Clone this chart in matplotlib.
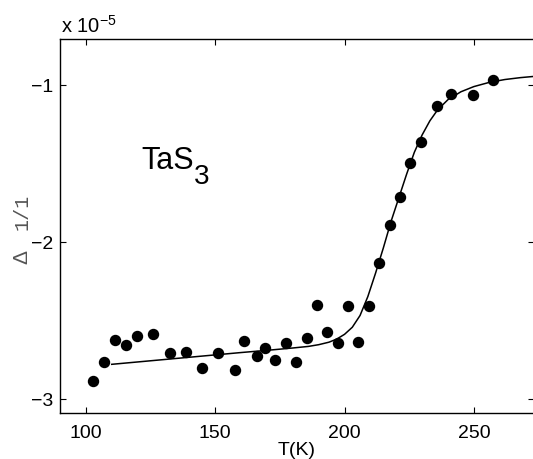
import matplotlib
matplotlib.use("Agg")
import matplotlib.pyplot as plt

plt.rcParams['font.family'] = ['Liberation Sans', 'DejaVu Sans']

# Measured data points (T in K, Δl/l in units of 1e-5)
T_data = [102.8, 107.2, 111.3, 115.5, 119.7, 125.8, 132.5, 138.7, 144.8, 151.0,
          157.6, 161.2, 166.1, 169.2, 173.2, 177.2, 181.4, 185.3, 189.4, 193.4,
          197.4, 201.3, 205.4, 209.3, 213.5, 217.4, 221.5, 225.5, 229.4, 235.6,
          241.1, 249.5, 257.5]
y_data = [-2.885, -2.769, -2.624, -2.658, -2.601, -2.588, -2.707, -2.703, -2.805, -2.711,
          -2.815, -2.635, -2.726, -2.675, -2.752, -2.645, -2.764, -2.616, -2.403, -2.577,
          -2.648, -2.412, -2.639, -2.412, -2.138, -1.894, -1.718, -1.501, -1.367, -1.138,
          -1.059, -1.064, -0.968]

# Fitted curve
T_fit = [110, 120, 130, 140, 150, 160, 170, 180, 186, 190, 194, 197, 200, 203, 206,
         209, 212, 215, 218, 221, 224, 227, 230, 233, 236, 240, 245, 250, 256, 262,
         268, 276]
y_fit = [-2.781, -2.766, -2.751, -2.736, -2.721, -2.706, -2.692, -2.677, -2.667, -2.656,
         -2.640, -2.620, -2.590, -2.545, -2.470, -2.350, -2.200, -2.040, -1.870, -1.720,
         -1.570, -1.430, -1.320, -1.230, -1.160, -1.095, -1.045, -1.012, -0.985, -0.967,
         -0.955, -0.943]

x_ticks = [100, 150, 200, 250]
y_ticks = [-3, -2, -1]
y_ticklabels = ['\u22123', '\u22122', '\u22121']

W, H = 533, 460
fig = plt.figure(figsize=(W / 100, H / 100), dpi=100)
ax = fig.add_axes([60 / W, 1 - 414.3 / H, 474 / W, (414.3 - 39.7) / H])

ax.plot(T_fit, y_fit, color='black', lw=1.1, zorder=2)
ax.plot(T_data, y_data, 'o', color='black', ms=7.2, mec='black', zorder=3)

ax.set_xlim(90, 273.25)
ax.set_ylim(-3.093, -0.707)
ax.set_xticks(x_ticks)
ax.set_xticklabels([str(v) for v in x_ticks])
ax.set_yticks(y_ticks)
ax.set_yticklabels(y_ticklabels)
ax.tick_params(direction='in', length=4, width=0.8, top=True, right=True,
               labelsize=14, pad=5)
ax.tick_params(axis='x', pad=8)
for s in ax.spines.values():
    s.set_linewidth(1.0)

ax.set_xlabel('T(K)', fontsize=14, labelpad=0)

# y label: Δ 1/1
fig.text(22 / W, 1 - 257 / H, '\u0394', rotation=90, fontsize=15, color='#555555',
         ha='center', va='center')
fig.text(22 / W, 1 - 212 / H, '1/1', rotation=90, fontsize=14.5, color='#555555',
         ha='center', va='center', family=['Liberation Mono', 'DejaVu Sans Mono'])

# scale factor
fig.text(61 / W, 1 - 33 / H, 'x 10$^{\\mathregular{\u22125}}$', fontsize=14.5,
         ha='left', va='baseline')

# TaS3 annotation (main text + lowered subscript)
ax.text(121.6, -1.531, 'TaS', fontsize=22, va='baseline', ha='left')
ax.text(141.8, -1.625, '3', fontsize=20, va='baseline', ha='left')

fig.savefig('out.png', dpi=100)
